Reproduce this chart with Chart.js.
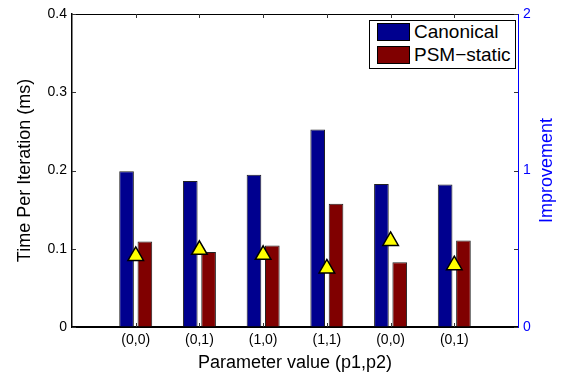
<!DOCTYPE html>
<html>
<head>
<meta charset="utf-8">
<script src="https://cdn.jsdelivr.net/npm/chart.js@4.4.0/dist/chart.umd.min.js"></script>
<style>
  body { margin: 0; background: #fff; }
  #wrap { position: relative; width: 561px; height: 383px; }
  #leyenda {
    position: absolute; left: 369px; top: 20px; width: 145px; height: 47px;
    border: 1px solid #000; background: #fff;
    font-family: "Liberation Sans", Arial, sans-serif; font-size: 19px; color: #000;
  }
  .item { position: absolute; left: 7px; display: flex; align-items: center; height: 18px; }
  .caja { width: 31px; height: 16px; border: 1px solid #000; margin-right: 4px; }
</style>
</head>
<body>
<div id="wrap">
  <canvas id="myChart" width="561" height="383"></canvas>
  <div id="leyenda"></div>
</div>
<script>
// datos
const categorias = ['(0,0)', '(0,1)', '(1,0)', '(1,1)', '(0,0)', '(0,1)'];
const canonical = [0.199, 0.1865, 0.1946, 0.2525, 0.1826, 0.1822];
const psmStatic = [0.1094, 0.0958, 0.1043, 0.1576, 0.0826, 0.1107];
const mejora = [0.454, 0.493, 0.461, 0.374, 0.55, 0.395];
const ticksIzq = [0, 0.1, 0.2, 0.3, 0.4];
const ticksDer = [0, 0.5, 1, 1.5, 2];
const nombres = ['Canonical', 'PSM\u2212static'];
const colores = ['#00008f', '#800000'];

const fuente = '"Liberation Sans", Arial, sans-serif';
Chart.defaults.font.family = fuente;
Chart.defaults.color = '#000';

// hueco vacio a cada lado del eje x
function rellenar(arr) {
  return [null, ...arr, null];
}
const etiquetas = ['', ...categorias, ''];

// marco superior, ticks hacia dentro y titulo derecho
const marco = {
  id: 'marco',
  afterDraw(chart) {
    const {ctx, chartArea: a, scales} = chart;
    ctx.save();
    ctx.lineWidth = 1;
    ctx.strokeStyle = '#000';
    ctx.beginPath();
    ctx.moveTo(a.left, a.top + 0.5);
    ctx.lineTo(a.right, a.top + 0.5);
    ctx.stroke();

    ctx.strokeStyle = '#333';
    ctx.beginPath();
    for (let i = 1; i <= categorias.length; i++) {
      const x = Math.round(scales.x.getPixelForTick(i)) + 0.5;
      ctx.moveTo(x, a.top); ctx.lineTo(x, a.top + 4);
      ctx.moveTo(x, a.bottom); ctx.lineTo(x, a.bottom - 4);
    }
    ticksIzq.forEach(v => {
      const y = Math.round(scales.y.getPixelForValue(v)) + 0.5;
      ctx.moveTo(a.left, y); ctx.lineTo(a.left + 4, y);
    });
    ticksDer.forEach(v => {
      const y = Math.round(scales.y1.getPixelForValue(v)) + 0.5;
      ctx.moveTo(a.right, y); ctx.lineTo(a.right - 4, y);
    });
    ctx.stroke();

    const t = chart.options.scales.y1.title;
    ctx.fillStyle = '#0000ff';
    ctx.font = '18px ' + fuente;
    ctx.textAlign = 'center';
    ctx.textBaseline = 'middle';
    ctx.translate(547, (a.top + a.bottom) / 2);
    ctx.rotate(-Math.PI / 2);
    ctx.fillText(t.text, 0, 0);
    ctx.restore();
  }
};

const data = {
  labels: etiquetas,
  datasets: [
    {
      type: 'line',
      label: 'Improvement',
      data: rellenar(mejora),
      yAxisID: 'y1',
      showLine: false,
      pointStyle: 'triangle',
      pointRadius: 9,
      pointBackgroundColor: '#ffff00',
      pointBorderColor: '#000',
      pointBorderWidth: 1.5,
      order: 0
    },
    {
      label: nombres[0],
      data: rellenar(canonical),
      backgroundColor: colores[0],
      borderColor: '#222',
      borderWidth: 1,
      yAxisID: 'y',
      order: 1
    },
    {
      label: nombres[1],
      data: rellenar(psmStatic),
      backgroundColor: colores[1],
      borderColor: '#222',
      borderWidth: 1,
      yAxisID: 'y',
      order: 1
    }
  ]
};

const config = {
  type: 'bar',
  data,
  options: {
    responsive: false,
    animation: false,
    layout: { padding: { top: 14, left: 0, right: 0, bottom: 0 } },
    datasets: { bar: { categoryPercentage: 0.575, barPercentage: 0.8 } },
    plugins: { legend: { display: false }, tooltip: { enabled: false } },
    scales: {
      x: {
        offset: false,
        grid: { display: true, drawOnChartArea: false, drawTicks: false },
        border: { color: '#000', width: 2 },
        ticks: { font: { size: 14 }, padding: 5, maxRotation: 0, autoSkip: false },
        title: { display: true, text: 'Parameter value (p1,p2)', font: { size: 18 }, padding: { top: 0, bottom: 9 } },
        afterFit: s => { s.height = 56; }
      },
      y: {
        position: 'left',
        min: 0, max: 0.4,
        afterBuildTicks: s => { s.ticks = ticksIzq.map(v => ({ value: v })); },
        grid: { display: true, drawOnChartArea: false, drawTicks: false },
        border: { color: '#000', width: 1.5 },
        ticks: { font: { size: 14 }, padding: 5, callback: v => v === 0 ? '0' : v.toFixed(1) },
        title: { display: true, text: 'Time Per Iteration (ms)', font: { size: 18 }, padding: { top: 14, bottom: 0 } },
        afterFit: s => { s.width = 72; }
      },
      y1: {
        position: 'right',
        min: 0, max: 2,
        afterBuildTicks: s => { s.ticks = ticksDer.map(v => ({ value: v })); },
        grid: { display: true, drawOnChartArea: false, drawTicks: false },
        border: { color: '#0000ff', width: 1 },
        ticks: { font: { size: 14 }, color: '#0000ff', padding: 5, callback: v => Number.isInteger(v) ? String(v) : '' },
        title: { display: false, text: 'Improvement' },
        afterFit: s => { s.width = 43; }
      }
    }
  },
  plugins: [marco]
};

const myChart = new Chart(document.getElementById('myChart'), config);

// leyenda dentro del area
const leyenda = document.getElementById('leyenda');
nombres.forEach((n, i) => {
  const fila = document.createElement('div');
  fila.className = 'item';
  fila.style.top = (2 + i * 23) + 'px';
  fila.innerHTML = '<span class="caja" style="background:' + colores[i] + '"></span><span>' + n + '</span>';
  leyenda.appendChild(fila);
});
</script>
</body>
</html>
